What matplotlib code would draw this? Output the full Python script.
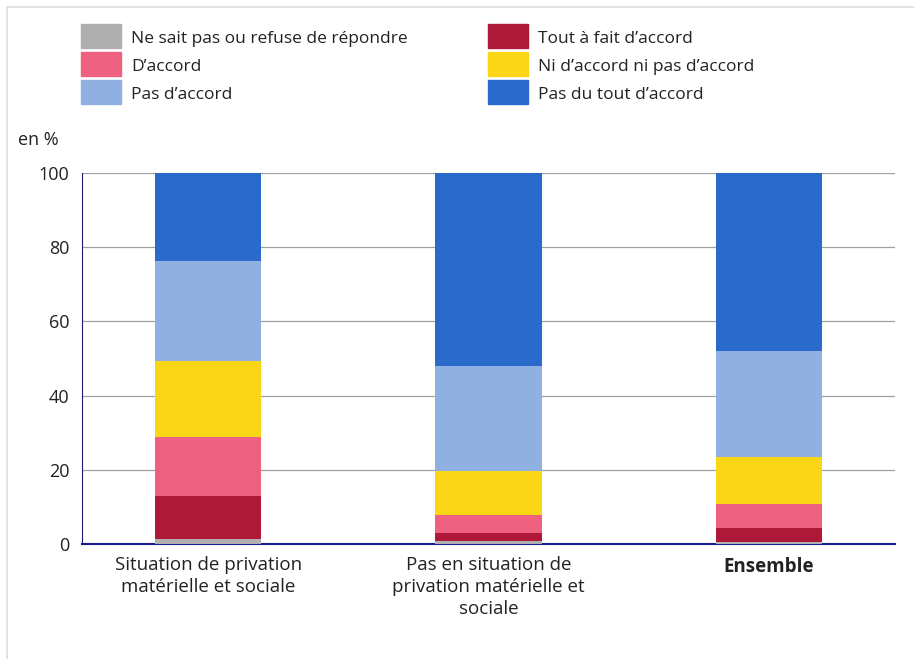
import matplotlib.pyplot as plt
from matplotlib.patches import Rectangle

plt.rcParams['font.family'] = ['Open Sans', 'DejaVu Sans']

categories = ['Situation de privation\nmatérielle et sociale',
              'Pas en situation de\nprivation matérielle et\nsociale',
              'Ensemble']
series = ['Ne sait pas ou refuse de répondre', 'Tout à fait d\u2019accord',
          'D\u2019accord', 'Ni d\u2019accord ni pas d\u2019accord',
          'Pas d\u2019accord', 'Pas du tout d\u2019accord']
ne_sait_pas = [1.3, 0.8, 0.6]
tout_a_fait = [11.6, 2.2, 3.7]
d_accord = [15.9, 4.9, 6.5]
ni_ni = [20.5, 11.8, 12.7]
pas_d_accord = [27.0, 28.3, 28.5]
pas_du_tout = [23.7, 52.0, 48.0]
colors = ['#b0afaf', '#ae1839', '#ee6180', '#fbd617', '#8fb0e0', '#2a6acb']

values = [ne_sait_pas, tout_a_fait, d_accord, ni_ni, pas_d_accord, pas_du_tout]

W, H = 914, 659
fig = plt.figure(figsize=(W / 100, H / 100), dpi=100)
ax = fig.add_axes([82 / W, 1 - 544 / H, (895 - 82) / W, (544 - 173) / H])

x = [0, 1, 2]
bottom = [0, 0, 0]
for vals, col, name in zip(values, colors, series):
    ax.bar(x, vals, bottom=bottom, width=0.38, color=col, label=name, zorder=3)
    bottom = [b + v for b, v in zip(bottom, vals)]

ax.set_xlim(-0.45, 2.45)
ax.set_ylim(0, 100)
ax.set_yticks([0, 20, 40, 60, 80, 100])
ax.yaxis.grid(True, color='#a0a0a0', linewidth=0.9, zorder=0)
ax.tick_params(axis='both', length=0, colors='#222222')
ax.tick_params(axis='y', pad=9, labelsize=13)
ax.tick_params(axis='x', pad=9)
ax.set_xticks(x)
ax.set_xticklabels(categories, fontsize=13.5, linespacing=1.25)
ax.get_xticklabels()[2].set_fontweight('bold')
for s in ['top', 'right']:
    ax.spines[s].set_visible(False)
ax.spines['left'].set_color('#1a1a6e')
ax.spines['left'].set_linewidth(0.8)
ax.spines['bottom'].set_color('#1a1a8e')
ax.spines['bottom'].set_linewidth(1.5)

fig.text(18 / W, 1 - 140 / H, 'en %', fontsize=13, va='center', color='#222222')

# legend, two columns as in the reference
order = [0, 2, 4, 1, 3, 5]
for k, i in enumerate(order):
    col_x = 81 if k < 3 else 488
    row_y = 24 + 28 * (k % 3)
    fig.patches.append(Rectangle((col_x / W, 1 - (row_y + 24) / H), 40 / W, 24 / H,
                                 transform=fig.transFigure, color=colors[i]))
    fig.text((col_x + 50) / W, 1 - (row_y + 15) / H, series[i], fontsize=12.5,
             va='center', ha='left', color='#222222')

# light frame around the chart
fig.patches.append(Rectangle((7 / W, -0.1), 1.2, 1 - 7 / H + 0.1, transform=fig.transFigure,
                             fill=False, edgecolor='#dddddd', linewidth=1.2))

fig.savefig('out.png', dpi=100)
